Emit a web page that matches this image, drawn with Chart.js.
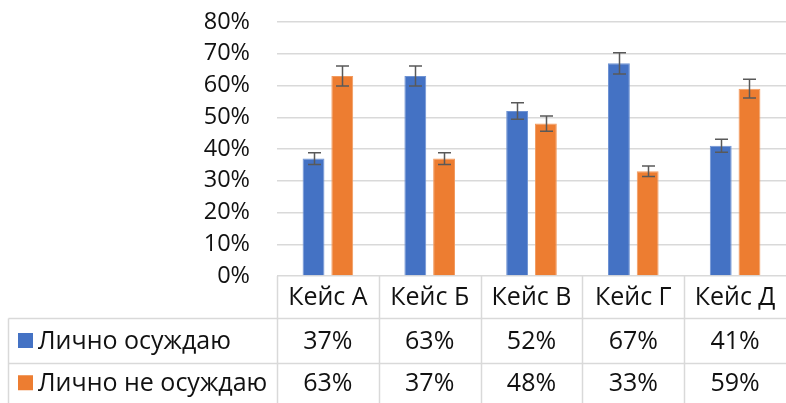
<!DOCTYPE html>
<html><head><meta charset="utf-8">
<script src="https://cdn.jsdelivr.net/npm/chart.js@4/dist/chart.umd.min.js"></script>
<style>html,body{margin:0;padding:0;background:#fff}#wrap{width:786px;height:403px}</style>
</head><body><div id="wrap"><canvas id="c" width="786" height="403"></canvas></div>
<script>
const categories = ['Кейс А', 'Кейс Б', 'Кейс В', 'Кейс Г', 'Кейс Д'];
const seriesNames = ['Лично осуждаю', 'Лично не осуждаю'];
const condemn = [37, 63, 52, 67, 41];
const notCondemn = [63, 37, 48, 33, 59];
const condemnErr = [1.85, 3.15, 2.6, 3.35, 2.05];
const notCondemnErr = [3.15, 1.85, 2.4, 1.65, 2.95];
const yTicks = [0, 10, 20, 30, 40, 50, 60, 70, 80];

const FONT = '"Open Sans", "Noto Sans", sans-serif';
const colors = ['#4472C4', '#ED7D31'];
const gridColor = '#d9d9d9';
const textColor = '#111111';

const errPlugin = {
  id: 'errbars',
  afterDatasetsDraw(chart) {
    const ctx = chart.ctx;
    const y = chart.scales.y;
    ctx.save();
    ctx.strokeStyle = '#595959';
    ctx.lineWidth = 1.5;
    chart.data.datasets.forEach((ds, di) => {
      const meta = chart.getDatasetMeta(di);
      meta.data.forEach((bar, i) => {
        const v = ds.data[i], e = ds.err[i];
        const x = Math.round(bar.x) + 0.5;
        const y1 = y.getPixelForValue(v + e), y2 = y.getPixelForValue(v - e);
        ctx.beginPath();
        ctx.moveTo(x, y1); ctx.lineTo(x, y2);
        ctx.moveTo(x - 6.5, y1); ctx.lineTo(x + 6.5, y1);
        ctx.moveTo(x - 6.5, y2); ctx.lineTo(x + 6.5, y2);
        ctx.stroke();
      });
    });
    ctx.restore();
  }
};

const tablePlugin = {
  id: 'datatable',
  afterDraw(chart) {
    const ctx = chart.ctx;
    const xs = chart.scales.x;
    const area = chart.chartArea;
    const right = chart.width;
    const top = area.bottom;
    const r1 = 318.5, r2 = 363.5, bottom = 403;
    const tableLeft = 8.5;
    ctx.save();
    ctx.strokeStyle = gridColor;
    ctx.lineWidth = 1.5;
    ctx.beginPath();
    ctx.moveTo(tableLeft, r1); ctx.lineTo(right, r1);
    ctx.moveTo(tableLeft, r2); ctx.lineTo(right, r2);
    ctx.moveTo(tableLeft, r1); ctx.lineTo(tableLeft, bottom);
    const n = categories.length;
    const step = xs.getPixelForValue(1) - xs.getPixelForValue(0);
    for (let i = 0; i < n; i++) {
      const bx = Math.round(xs.getPixelForValue(i) - step / 2) + 0.5;
      ctx.moveTo(bx, top); ctx.lineTo(bx, bottom);
    }
    ctx.stroke();

    ctx.fillStyle = textColor;
    ctx.font = '25px ' + FONT;
    ctx.textAlign = 'center';
    ctx.textBaseline = 'middle';
    const rows = [condemn, notCondemn];
    categories.forEach((c, i) => {
      const cx = xs.getPixelForValue(i);
      ctx.fillText(c, cx, (top + r1) / 2 + 1);
      ctx.fillText(rows[0][i] + '%', cx, (r1 + r2) / 2 + 1);
      ctx.fillText(rows[1][i] + '%', cx, (r2 + bottom) / 2 + 1);
    });
    ctx.textAlign = 'left';
    seriesNames.forEach((s, k) => {
      const cy = k === 0 ? (r1 + r2) / 2 : (r2 + bottom) / 2;
      ctx.fillStyle = colors[k];
      ctx.fillRect(18, cy - 8, 15, 15);
      ctx.fillStyle = textColor;
      ctx.fillText(s, 38, cy + 1);
    });
    ctx.restore();
  }
};

new Chart(document.getElementById('c'), {
  type: 'bar',
  data: {
    labels: categories,
    datasets: [
      { label: seriesNames[0], data: condemn, err: condemnErr, backgroundColor: colors[0], borderColor: '#6f93d3', borderWidth: 1 },
      { label: seriesNames[1], data: notCondemn, err: notCondemnErr, backgroundColor: colors[1], borderColor: '#f29a5e', borderWidth: 1 }
    ]
  },
  options: {
    responsive: false,
    animation: false,
    devicePixelRatio: 1,
    layout: { padding: { top: 22, bottom: 127, left: 0, right: 0 } },
    plugins: { legend: { display: false }, tooltip: { enabled: false } },
    datasets: { bar: { categoryPercentage: 0.565, barPercentage: 0.76 } },
    scales: {
      x: { display: false },
      y: {
        min: 0, max: 80,
        afterFit(scale) { scale.width = 277; },
        afterBuildTicks(scale) { scale.ticks = yTicks.map(v => ({ value: v })); },
        border: { display: false },
        grid: { color: gridColor, lineWidth: 1.5, drawTicks: true, tickLength: 27, tickColor: 'rgba(0,0,0,0)' },
        ticks: {
          padding: 0,
          color: textColor,
          font: { family: FONT, size: 23.5 },
          callback: v => v + '%'
        }
      }
    }
  },
  plugins: [errPlugin, tablePlugin]
});
</script>
</body></html>
